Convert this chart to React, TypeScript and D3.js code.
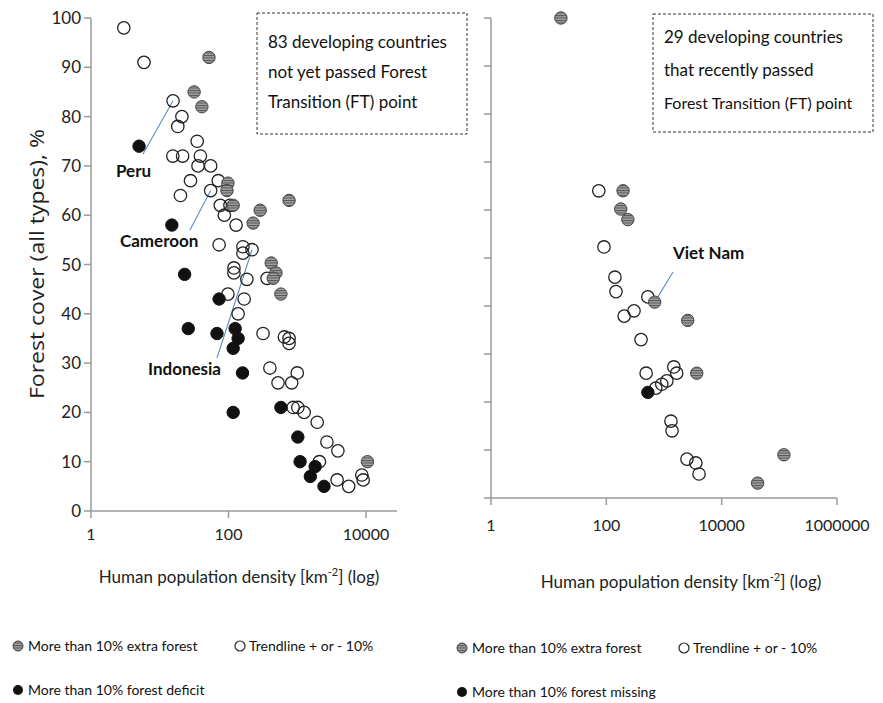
import React from 'react';
import * as d3 from 'd3';

// [density per km2, forest cover %]
const leftExtra: [number, number][] = [
  [52, 92], [31.6, 85], [41, 82], [98, 66.5], [95, 65], [117, 62], [289, 61],
  [228, 58.4], [760, 63], [418, 50.3], [490, 48.3], [447, 47.2], [578, 44], [10500, 10],
];
const leftTrend: [number, number][] = [
  [3, 98], [5.9, 91], [15.6, 83.2], [21, 80], [18.3, 78], [35, 75], [15.5, 72], [21.5, 72],
  [39, 72], [36, 70], [55, 70], [28, 67], [71, 67], [20, 64], [55, 65], [76, 62], [105, 62],
  [87, 60], [129, 58], [73, 54], [162, 53.6], [162, 52.3], [220, 53], [120, 49.3], [120, 48.3],
  [364, 47.2], [185, 47], [98, 44], [169, 43], [138, 40], [318, 36], [650, 35.3], [760, 35],
  [760, 34], [400, 29], [1000, 28], [525, 26], [830, 26], [870, 21], [1020, 21], [1260, 20],
  [1950, 18], [2700, 14], [3900, 12.2], [2100, 10], [3800, 6.3], [5600, 5], [8700, 7.3],
  [9100, 6.3],
];
const leftDeficit: [number, number][] = [
  [5, 74], [15, 58], [23, 48], [73, 43], [26, 37], [68, 36], [125, 37], [138, 35], [117, 33],
  [160, 28], [117, 20], [578, 21], [1020, 15], [1100, 10], [1820, 9], [1550, 7], [2450, 5],
];

const rightExtra: [number, number][] = [
  [16.3, 100], [195, 64], [178, 60.2], [236, 58], [690, 40.8], [2580, 37], [3700, 26],
  [120000, 9], [42000, 3.1],
];
const rightTrend: [number, number][] = [
  [74, 64], [91, 52.3], [141, 46], [147, 43], [525, 41.9], [302, 39], [204, 37.9], [400, 33],
  [1480, 27.3], [1660, 26], [490, 26], [1120, 24.4], [915, 23.7], [720, 22.9], [1320, 16],
  [1380, 14], [2500, 8.1], [3560, 7.3], [4050, 5],
];
const rightMissing: [number, number][] = [[525, 22]];

const yTicks = [0, 10, 20, 30, 40, 50, 60, 70, 80, 90, 100];
const leftXTicks = [1, 100, 10000];
const rightXTicks = [1, 100, 10000, 1000000];

const leftBoxLines = ['83 developing countries', 'not yet passed Forest', 'Transition (FT) point'];
const rightBoxLines = ['29 developing countries', 'that recently passed', 'Forest Transition (FT) point'];

const leftNotes = [
  { label: 'Peru', point: [15.6, 83.2], tx: 116, ty: 177, from: [143, 154] },
  { label: 'Cameroon', point: [55, 65], tx: 120, ty: 247, from: [190, 230] },
  { label: 'Indonesia', point: [220, 53], tx: 148, ty: 375, from: [217, 358] },
];
const rightNotes = [{ label: 'Viet Nam', point: [690, 40.8], tx: 673, ty: 259, from: [673, 272] }];

const FONT = "Lato, 'Liberation Sans', sans-serif";
const AXIS = '#9a9a9a';

type Panel = {
  x: d3.ScaleLogarithmic<number, number>;
  y: d3.ScaleLinear<number, number>;
  xEnd: number;
  xTicks: number[];
  showYLabels: boolean;
  tickLabelY: number;
  titleX: number;
  titleY: number;
};

const Marks = ({ x, y, extra, trend, dark }: any) => (
  <g>
    {trend.map((d: [number, number], i: number) => (
      <circle key={'t' + i} cx={x(d[0])} cy={y(d[1])} r={6.2} fill="none" stroke="#222" strokeWidth={1.3} />
    ))}
    {extra.map((d: [number, number], i: number) => (
      <circle key={'e' + i} cx={x(d[0])} cy={y(d[1])} r={6.2} fill="url(#hatch)" stroke="#444" strokeWidth={1} />
    ))}
    {dark.map((d: [number, number], i: number) => (
      <circle key={'d' + i} cx={x(d[0])} cy={y(d[1])} r={6.2} fill="#111" stroke="#111" />
    ))}
  </g>
);

const Axes = ({ p }: { p: Panel }) => {
  const x0 = p.x.range()[0];
  const y0 = p.y(0);
  return (
    <g>
      <line x1={x0} x2={x0} y1={y0} y2={p.y(100)} stroke={AXIS} strokeWidth={1.5} />
      <line x1={x0} x2={p.xEnd} y1={y0} y2={y0} stroke={AXIS} strokeWidth={1.5} />
      {yTicks.map(t => (
        <g key={t}>
          <line x1={x0 - 7} x2={x0} y1={p.y(t)} y2={p.y(t)} stroke={AXIS} strokeWidth={1.5} />
          {p.showYLabels && (
            <text x={x0 - 10} y={p.y(t) + 6} textAnchor="end" fontSize={17} fill="#222">{t}</text>
          )}
        </g>
      ))}
      {p.xTicks.map(t => (
        <g key={t}>
          <line x1={p.x(t)} x2={p.x(t)} y1={y0} y2={y0 + 7} stroke={AXIS} strokeWidth={1.5} />
          <text x={p.x(t)} y={p.tickLabelY} textAnchor="middle" fontSize={16} fill="#222">{t}</text>
        </g>
      ))}
      <text x={p.titleX} y={p.titleY} textAnchor="middle" fontSize={17} fill="#222">
        Human population density [km<tspan fontSize={11} dy={-7}>-2</tspan><tspan dy={7}>] (log)</tspan>
      </text>
    </g>
  );
};

const Box = ({ x, y, w, h, lines, sizes, top, step }: any) => (
  <g>
    <rect x={x} y={y} width={w} height={h} fill="none" stroke="#333" strokeWidth={1} strokeDasharray="3,2" />
    {lines.map((l: string, i: number) => (
      <text key={i} x={x + 11} y={y + top + i * step} fontSize={sizes[i]} fill="#111">{l}</text>
    ))}
  </g>
);

const Notes = ({ x, y, notes }: any) => (
  <g>
    {notes.map((n: any) => (
      <g key={n.label}>
        <line x1={n.from[0]} y1={n.from[1]} x2={x(n.point[0])} y2={y(n.point[1])} stroke="#5b8cc4" strokeWidth={1.1} />
        <text x={n.tx} y={n.ty} fontSize={17} fontWeight="bold" fill="#111">{n.label}</text>
      </g>
    ))}
  </g>
);

const Legend = ({ x, y, darkLabel }: any) => (
  <g fontSize={14} fill="#111">
    <circle cx={x} cy={y} r={5} fill="url(#hatch)" stroke="#444" />
    <text x={x + 10} y={y + 5}>More than 10% extra forest</text>
    <circle cx={x + 222} cy={y} r={5} fill="white" stroke="#222" strokeWidth={1.2} />
    <text x={x + 231} y={y + 5}>Trendline + or - 10%</text>
    <circle cx={x} cy={y + 44} r={5} fill="#111" />
    <text x={x + 10} y={y + 49}>{darkLabel}</text>
  </g>
);

const App = () => {
  const left: Panel = {
    x: d3.scaleLog().domain([1, 10000]).range([91, 366]),
    y: d3.scaleLinear().domain([0, 100]).range([511, 18]),
    xEnd: 397,
    xTicks: leftXTicks,
    showYLabels: true,
    tickLabelY: 540,
    titleX: 239,
    titleY: 583,
  };
  const right: Panel = {
    x: d3.scaleLog().domain([1, 1000000]).range([491, 837]),
    y: d3.scaleLinear().domain([0, 100]).range([498, 18]),
    xEnd: 837,
    xTicks: rightXTicks,
    showYLabels: false,
    tickLabelY: 531,
    titleX: 681,
    titleY: 588,
  };

  return (
    <svg width={883} height={703} style={{ position: 'absolute', left: 0, top: 0, background: 'white' }} fontFamily={FONT}>
      <defs>
        <pattern id="hatch" patternUnits="userSpaceOnUse" width={4} height={2.5}>
          <rect width={4} height={2.5} fill="#a0a0a0" />
          <line x1={0} x2={4} y1={0.5} y2={0.5} stroke="#555" strokeWidth={1} />
        </pattern>
      </defs>
      <rect width={883} height={703} fill="white" />

      <Axes p={left} />
      <Axes p={right} />

      <text transform="translate(44,264) rotate(-90)" textAnchor="middle" fontSize={20}
        textLength={270} lengthAdjust="spacingAndGlyphs"
        fontFamily="'Open Sans', 'Noto Sans', sans-serif" fill="#222">
        Forest cover (all types), %
      </text>

      <Box x={257} y={13} w={210} h={121} lines={leftBoxLines} sizes={[17, 17, 17]} top={35} step={30} />
      <Box x={653} y={14} w={220} h={118} lines={rightBoxLines} sizes={[17, 17, 16]} top={29} step={33} />

      <Notes x={left.x} y={left.y} notes={leftNotes} />
      <Notes x={right.x} y={right.y} notes={rightNotes} />

      <Marks x={left.x} y={left.y} extra={leftExtra} trend={leftTrend} dark={leftDeficit} />
      <Marks x={right.x} y={right.y} extra={rightExtra} trend={rightTrend} dark={rightMissing} />

      <Legend x={18} y={646} darkLabel="More than 10% forest deficit" />
      <Legend x={462} y={648} darkLabel="More than 10% forest missing" />
    </svg>
  );
};

export default App;
